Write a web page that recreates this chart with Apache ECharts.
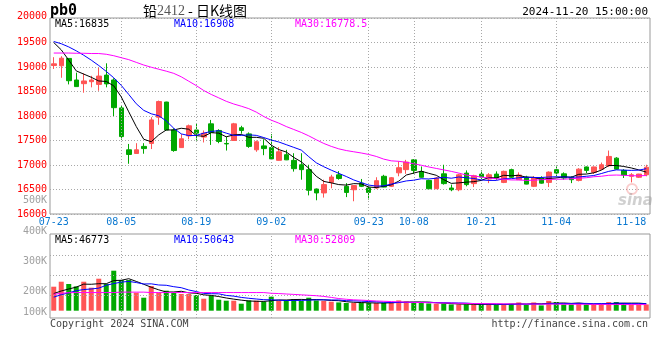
<!DOCTYPE html>
<html><head><meta charset="utf-8">
<script src="https://cdn.jsdelivr.net/npm/echarts@6/dist/echarts.min.js"></script>
<style>html,body{margin:0;padding:0;background:#fff}#c{width:660px;height:360px}</style>
</head><body><div id="c"></div>
<script>
const dates = ['07-23','07-24','07-25','07-26','07-29','07-30','07-31',
'08-01','08-02','08-05','08-06','08-07','08-08','08-09','08-12','08-13','08-14','08-15','08-16','08-19','08-20','08-21','08-22','08-23','08-26','08-27','08-28','08-29','08-30',
'09-02','09-03','09-04','09-05','09-06','09-09','09-10','09-11','09-12','09-13','09-18','09-19','09-20','09-23','09-24','09-25','09-26','09-27','09-30',
'10-08','10-09','10-10','10-11','10-14','10-15','10-16','10-17','10-18','10-21','10-22','10-23','10-24','10-25','10-28','10-29','10-30','10-31',
'11-01','11-04','11-05','11-06','11-07','11-08','11-11','11-12','11-13','11-14','11-15','11-18','11-19','11-20'];
const dateLabels = ['07-23','08-05','08-19','09-02','09-23','10-08','10-21','11-04','11-18'];
const gridDates = ['08-05','08-19','09-02','09-23','10-08','10-21','11-04'];

const opens = [19030,19025,19175,18735,18660,18700,18645,18835,18735,18165,
17310,17235,17380,17440,17975,18285,17715,17355,17595,17715,
17570,17840,17705,17440,17500,17760,17635,17310,17390,17355,
17095,17210,17095,17005,16905,16510,16430,16645,16800,16565,
16495,16630,16530,16530,16770,16565,16840,16905,17105,16865,
16685,16515,16820,16530,16495,16835,16620,16815,16715,16815,
16645,16905,16700,16755,16565,16735,16645,16905,16820,16750,
16685,16960,16850,16915,16985,17140,16890,16770,16750,16800];
const closes = [19065,19180,18720,18600,18715,18735,18815,18655,18170,17580,
17215,17310,17335,17920,18295,17715,17295,17535,17800,17650,
17650,17665,17480,17430,17840,17705,17380,17475,17335,17125,
17270,17105,16925,16905,16485,16430,16600,16755,16725,16440,
16580,16565,16440,16680,16550,16740,16945,17060,16890,16750,
16515,16735,16620,16495,16800,16600,16780,16755,16800,16735,
16870,16750,16795,16610,16735,16630,16855,16835,16735,16700,
16915,16890,16960,17005,17175,16915,16795,16800,16815,16955];
const lows = [18960,18780,18645,18600,18475,18585,18515,18585,18000,17515,
17025,17230,17230,17325,17820,17710,17270,17350,17525,17500,
17460,17410,17445,17295,17495,17640,17350,17270,17200,17120,
17090,17100,16865,16700,16380,16280,16335,16525,16700,16345,
16260,16550,16295,16510,16545,16550,16770,16820,16820,16740,
16510,16510,16600,16465,16465,16565,16550,16715,16630,16700,
16630,16735,16700,16605,16550,16620,16550,16770,16700,16630,
16665,16835,16815,16905,16960,16905,16735,16645,16735,16770];
const highs = [19200,19220,19180,18885,18870,18820,18985,19075,18770,18220,
17430,17445,17445,17975,18315,18290,17750,17630,17825,17855,
17705,17920,17730,17580,17860,17800,17665,17500,17525,17630,
17365,17310,17240,17240,17005,16520,16700,16800,16875,16630,
16590,16715,16580,16750,16800,16755,17075,17105,17120,16970,
16700,16755,17005,16600,16820,16890,16800,16890,16835,16870,
16885,16925,16850,16780,16770,16770,16870,16970,16850,16770,
16935,16970,16970,17050,17295,17160,16915,16835,16820,17005];

const ma5 = [19500,19350,19140,18920,18855,18790,18715,18705,18615,18390,
18085,17785,17525,17475,17615,17715,17715,17750,17730,17600,
17585,17660,17650,17575,17615,17625,17565,17565,17545,17405,
17315,17265,17155,17065,16935,16770,16665,16635,16600,16590,
16620,16615,16550,16540,16565,16595,16670,16795,16835,16875,
16830,16790,16700,16625,16635,16650,16660,16685,16745,16735,
16790,16780,16790,16750,16750,16705,16725,16735,16760,16750,
16810,16815,16840,16895,16990,16990,16970,16940,16900,16855];
const ma10 = [19520,19475,19410,19330,19240,19140,19030,18910,18780,18625,
18440,18250,18115,18045,18005,17900,17750,17635,17600,17605,
17650,17685,17700,17650,17605,17605,17615,17605,17560,17510,
17470,17415,17360,17305,17170,17045,16965,16895,16830,16765,
16695,16640,16590,16570,16575,16610,16640,16675,16690,16720,
16715,16730,16750,16730,16755,16740,16725,16695,16685,16685,
16720,16720,16740,16750,16745,16745,16755,16760,16755,16750,
16755,16770,16785,16825,16870,16900,16895,16890,16895,16925];
const ma30 = [19285,19285,19285,19280,19280,19275,19275,19260,19230,19190,
19150,19095,19040,18995,18955,18915,18870,18800,18710,18620,
18520,18440,18370,18300,18245,18200,18150,18080,17990,17915,
17855,17785,17725,17665,17595,17515,17440,17380,17330,17295,
17270,17245,17215,17175,17120,17085,17075,17055,17025,16995,
16960,16930,16900,16870,16835,16795,16775,16755,16735,16720,
16710,16695,16695,16685,16690,16700,16705,16710,16710,16720,
16730,16740,16760,16770,16790,16795,16790,16780,16780,16785];

const volumes = [168000,203000,187000,170000,203000,161000,224000,187000,280000,215000,
215000,126000,91000,173000,126000,140000,126000,117000,117000,110000,
84000,105000,77000,70000,70000,49000,72000,70000,63000,98000,
70000,75000,82000,68000,91000,72000,68000,63000,58000,54000,
54000,56000,54000,54000,54000,56000,72000,65000,58000,56000,
51000,49000,49000,44000,44000,44000,44000,44000,49000,40000,
44000,49000,58000,40000,58000,37000,68000,61000,44000,44000,
54000,44000,44000,44000,61000,61000,54000,44000,44000,44000];
const volMa5 = [120000,138000,152000,165000,186000,185000,189000,189000,211000,213000,
224000,205000,185000,164000,146000,131000,131000,136000,125000,122000,
111000,107000,99000,89000,81000,74000,68000,66000,65000,70000,
75000,75000,78000,79000,77000,78000,76000,72000,70000,63000,
59000,57000,55000,54000,54000,55000,58000,60000,61000,61000,
60000,56000,53000,50000,47000,46000,45000,44000,45000,44000,
44000,45000,48000,46000,50000,48000,52000,53000,54000,51000,
54000,49000,46000,46000,49000,51000,53000,53000,53000,49000];
const volMa10 = [95000,112000,125000,140000,148000,152000,158000,178000,190000,200000,
205000,197000,187000,188000,180000,178000,168000,161000,145000,134000,
121000,119000,118000,107000,102000,93000,87000,82000,77000,76000,
74000,71000,72000,72000,74000,76000,76000,75000,75000,70000,
69000,67000,64000,62000,59000,57000,58000,58000,58000,58000,
58000,57000,56000,55000,54000,53000,50000,48000,47000,46000,
45000,45000,46000,46000,47000,46000,49000,50000,50000,50000,
51000,51000,49000,50000,50000,53000,51000,49000,49000,49000];
const volMa30 = [115000,122000,126000,127000,127000,127000,127000,127000,127000,130000,
130000,130000,130000,127000,127000,127000,127000,127000,127000,127000,
127000,127000,127000,127000,127000,127000,127000,127000,127000,122000,
120000,117000,114000,111000,108000,105000,100000,93000,85000,80000,
76000,74000,71000,68000,66000,64000,62000,60000,58000,57000,
56000,55000,54000,53000,52000,51000,50000,50000,49000,49000,
48000,48000,47000,47000,47000,46000,46000,46000,45000,45000,
45000,45000,44000,44000,44000,44000,43000,43000,43000,43000];
const volGridValues = [110000, 250000, 390000];
const volTickLabels = ['500K','400K','300K','200K','100K'];
const priceMaTexts = ['MA5:16835','MA10:16908','MA30:16778.5'];
const volMaTexts = ['MA5:46773','MA10:50643','MA30:52809'];

const UP = '#ff5555', DOWN = '#00a800';
const C5 = '#000000', C10 = '#0000ff', C30 = '#ff00ff';
const MONO = '"DejaVu Sans Mono","Liberation Mono",monospace';
const dotted = {color:'#a8a8a8', type:[1,2], width:1};

const chart = echarts.init(document.getElementById('c'));
const kData = dates.map((d,i)=>[opens[i], closes[i], lows[i], highs[i]]);
const volData = volumes.map((v,i)=>({value:v, itemStyle:{color: closes[i]>=opens[i]?UP:DOWN}}));
const vLines = gridDates.map(d=>({xAxis:d}));
const hLines = volGridValues.map(v=>({yAxis:v}));

function txt(x,y,text,fill,opts){
  return Object.assign({type:'text', x:x, y:y, silent:true, z:10,
    style:Object.assign({text:text, fill:fill, font:'10px '+MONO, textAlign:'left', textVerticalAlign:'middle', verticalAlign:'middle'}, opts||{})});
}
function maLine(data, color, xi, yi){
  return {type:'line', data:data, xAxisIndex:xi, yAxisIndex:yi, showSymbol:false, symbol:'none',
    lineStyle:{color:color, width:1}, itemStyle:{color:color}, silent:true, z:5};
}
const maColors = [C5, C10, C30];
const maX = [55, 174, 295];

const graphic = [
  txt(50, 11, 'pb0', '#000', {font:'bold 15px '+MONO}),
  txt(195, 11, '{a|铅}{b|2412}{a| - 日K线图}', '#000', {textAlign:'center', rich:{
      a:{font:'14px "Noto Sans CJK SC",sans-serif', fill:'#000'},
      b:{font:'14px "Liberation Serif",serif', fill:'#555'}}}),
  txt(648, 12, '2024-11-20 15:00:00', '#000', {textAlign:'right', font:'11px '+MONO}),
  txt(47, 16, '20000', '#ff0000', {textAlign:'right'}),
  txt(618, 201, 'sina', 'rgba(150,150,150,0.45)', {font:'italic bold 15px "DejaVu Sans",sans-serif'}),
  {type:'circle', shape:{cx:632, cy:189, r:5}, silent:true, z:1, style:{fill:'none', stroke:'rgba(240,110,110,0.35)', lineWidth:2}},
  txt(50, 324, 'Copyright 2024 SINA.COM', '#444'),
  txt(648, 324, 'http://finance.sina.com.cn', '#444', {textAlign:'right'})
];
priceMaTexts.forEach((t,i)=>graphic.push(txt(maX[i], 24, t, maColors[i])));
volMaTexts.forEach((t,i)=>graphic.push(txt(maX[i], 240, t, maColors[i])));
const volLabelY = [200, 231, 261, 291, 312];
volTickLabels.forEach((t,i)=>graphic.push(txt(47, volLabelY[i], t, '#a0a0a0', {textAlign:'right'})));

const option = {
  animation:false,
  backgroundColor:'#fff',
  grid:[
    {left:50, right:10, top:18, height:196, show:true, borderColor:'#999', borderWidth:1},
    {left:50, right:10, top:234, height:84, show:true, borderColor:'#999', borderWidth:1}
  ],
  xAxis:[
    {type:'category', data:dates, gridIndex:0, boundaryGap:true,
      axisLine:{show:false}, axisTick:{show:false}, splitLine:{show:false},
      axisLabel:{interval:(i,v)=>dateLabels.indexOf(v)>=0, color:'#0a78d0', fontFamily:MONO, fontSize:10, margin:3}},
    {type:'category', data:dates, gridIndex:1, boundaryGap:true,
      axisLine:{show:false}, axisTick:{show:false}, splitLine:{show:false}, axisLabel:{show:false}}
  ],
  yAxis:[
    {type:'value', gridIndex:0, min:16000, max:20000, interval:500,
      axisLine:{show:false}, axisTick:{show:false}, splitLine:{lineStyle:dotted},
      axisLabel:{color:'#ff0000', fontFamily:MONO, fontSize:10, margin:3, padding:[0,0,3,0],
        formatter:(v)=> v===20000 ? '' : String(v)}},
    {type:'value', gridIndex:1, min:-51100, max:536900,
      axisLine:{show:false}, axisTick:{show:false}, splitLine:{show:false}, axisLabel:{show:false}}
  ],
  series:[
    {type:'candlestick', data:kData, xAxisIndex:0, yAxisIndex:0, barWidth:5, silent:true,
      itemStyle:{color:UP, color0:DOWN, borderColor:UP, borderColor0:DOWN, borderWidth:1},
      markLine:{silent:true, symbol:['none','none'], label:{show:false}, lineStyle:dotted, animation:false, data:vLines}},
    maLine(ma5, C5, 0, 0), maLine(ma10, C10, 0, 0), maLine(ma30, C30, 0, 0),
    {type:'bar', data:volData, xAxisIndex:1, yAxisIndex:1, barWidth:5, silent:true,
      markLine:{silent:true, symbol:['none','none'], label:{show:false}, lineStyle:dotted, animation:false, data:vLines.concat(hLines)}},
    maLine(volMa5, C5, 1, 1), maLine(volMa10, C10, 1, 1), maLine(volMa30, C30, 1, 1)
  ],
  graphic:graphic
};
chart.setOption(option);
</script></body></html>
